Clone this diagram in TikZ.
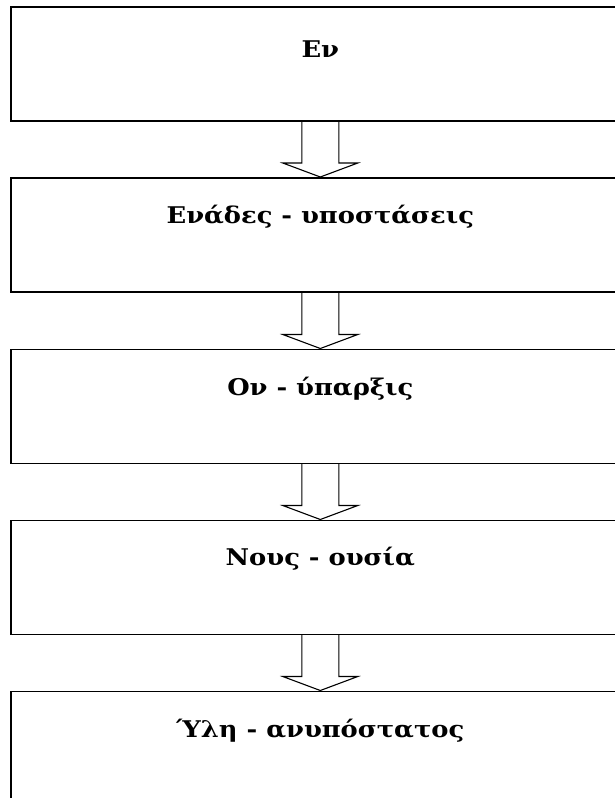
\documentclass[tikz,border=0pt]{standalone}
\usepackage{fontspec}
\newfontfamily\stagefont{DejaVu Serif}[UprightFont=* Bold, BoldFont=* Bold, FakeStretch=1.12]
\usetikzlibrary{calc}
\tikzset{
  stagebox/.style={draw=black, line width=1.6pt, rectangle, minimum width=619pt, minimum height=114pt, anchor=north west, inner sep=0pt},
  stagetext/.style={anchor=base, font=\stagefont\fontsize{23}{27}\selectfont, inner sep=0pt},
  fatarrow/.style={draw=black, line width=1.1pt, line join=miter},
}
\newcommand\fatarrowbetween[2]{%
  \draw[fatarrow] let \p1=(#1.south), \p2=(#2.north) in
    (\x1-18.5pt,\y1) -- (\x1-18.5pt,\y2+14pt) -- (\x1-37.5pt,\y2+14pt) -- (\x2,\y2)
    -- (\x1+37.5pt,\y2+14pt) -- (\x1+18.5pt,\y2+14pt) -- (\x1+18.5pt,\y1);}
\begin{document}
\begin{tikzpicture}[x=1pt,y=1pt]
\useasboundingbox (0,0) rectangle (615,-798);
\clip (0,0) rectangle (615,-798);
\node[stagebox] (b1) at (10,-6) {};
\node[stagebox] (b2) at (10,-177) {};
\node[stagebox] (b3) at (10,-348.5) {};
\node[stagebox] (b4) at (10,-519.5) {};
\node[stagebox] (b5) at (10,-690.5) {};
\node[stagetext] (t1) at ($(b1.north)+(0,-51)$) {Εν};
\node[stagetext] (t2) at ($(b2.north)+(0,-46)$) {Ενάδες - υποστάσεις};
\node[stagetext] (t3) at ($(b3.north)+(0,-46.5)$) {Ον - ύπαρξις};
\node[stagetext] (t4) at ($(b4.north)+(0,-46)$) {Νους - ουσία};
\node[stagetext] (t5) at ($(b5.north)+(0,-46.5)$) {Ύλη - ανυπόστατος};
\fatarrowbetween{b1}{b2}
\fatarrowbetween{b2}{b3}
\fatarrowbetween{b3}{b4}
\fatarrowbetween{b4}{b5}
\end{tikzpicture}
\end{document}
